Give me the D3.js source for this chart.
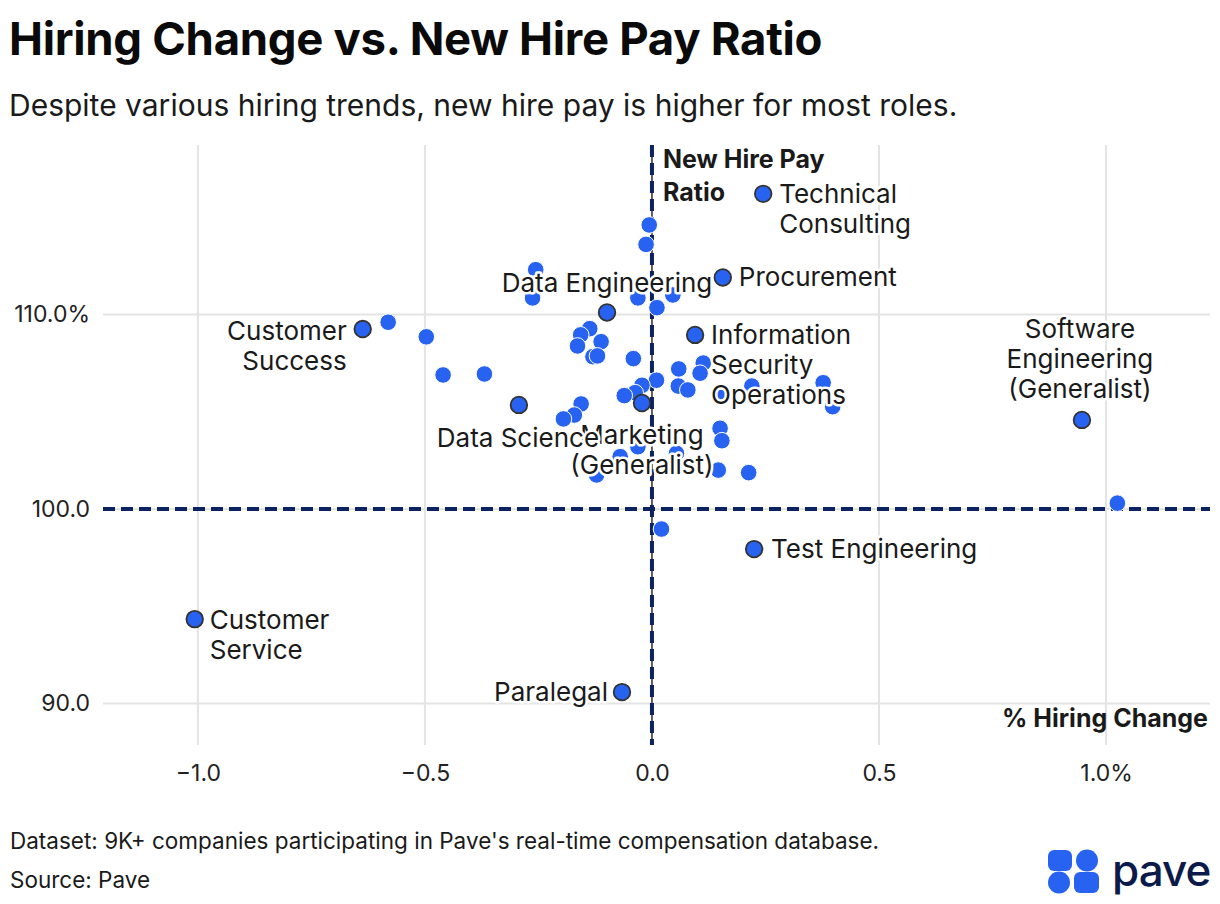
<!DOCTYPE html>
<html lang="en">
<head>
<meta charset="UTF-8">
<title>Hiring Change vs. New Hire Pay Ratio</title>
<style>
  body, html { margin: 0; background: #fff; }
  svg { display: block; }
  text { font-family: Inter, "Noto Sans", sans-serif; fill: #1a1a1a; }
  .title { font-size: 45.5px; font-weight: 700; fill: #0a0a0a; letter-spacing: -0.3px; }
  .subtitle { font-size: 30px; }
  .tick text { font-size: 23px; fill: #222; }
  .axis-title { font-size: 25px; font-weight: 700; fill: #1a1a1a; }
  .lbl { font-size: 26px; stroke: #fff; stroke-width: 5px; paint-order: stroke; stroke-linejoin: round; }
  .foot { font-size: 22.5px; }
</style>
</head>
<body>
<svg width="1220" height="904"></svg>
<script src="https://cdn.jsdelivr.net/npm/d3@7"></script>
<script>
// named roles (highlighted)
const roleNames = ["Technical Consulting", "Procurement", "Data Engineering", "Customer Success",
  "Information Security Operations", "Marketing (Generalist)", "Data Science",
  "Software Engineering (Generalist)", "Test Engineering", "Customer Service", "Paralegal"];
const roleHiring = [0.245, 0.156, -0.099, -0.637, 0.095, -0.022, -0.293, 0.947, 0.225, -1.007, -0.066];
const rolePay = [116.2, 111.9, 110.1, 109.25, 108.95, 105.45, 105.35, 104.58, 97.94, 94.34, 90.59];

// other roles (unlabeled)
const otherHiring = [-0.006, -0.013, -0.256, -0.263, -0.031, 0.046, 0.011, -0.581, -0.497, -0.137,
  -0.157, -0.112, -0.164, -0.130, -0.120, -0.041, -0.460, -0.369, 0.059, 0.113,
  0.106, 0.010, 0.058, 0.079, -0.022, -0.037, -0.061, 0.220, 0.377, 0.398,
  0.150, -0.156, -0.171, -0.195, 0.150, 0.154, -0.031, 0.054, -0.070, -0.122,
  0.146, 0.213, 0.021, 1.025];
const otherPay = [114.6, 113.6, 112.3, 110.85, 110.85, 111.0, 110.35, 109.6, 108.85, 109.27,
  108.95, 108.6, 108.38, 107.83, 107.87, 107.73, 106.89, 106.94, 107.2, 107.5,
  106.98, 106.62, 106.32, 106.12, 106.36, 105.98, 105.83, 106.32, 106.49, 105.26,
  105.94, 105.4, 104.83, 104.63, 104.15, 103.51, 103.2, 102.86, 102.69, 101.75,
  102.0, 101.87, 98.97, 100.3];

const xTicks = [-1.0, -0.5, 0.0, 0.5, 1.0];
const xTickLabels = ["\u22121.0", "\u22120.5", "0.0", "0.5", "1.0%"];
const yTicks = [90, 100, 110];
const yTickLabels = ["90.0", "100.0", "110.0%"];

// label placement: [lines, dx, dy of first baseline, anchor]
const labelLayout = {
  "Technical Consulting": [["Technical", "Consulting"], 16, 9, "start"],
  "Procurement": [["Procurement"], 16, 9, "start"],
  "Data Engineering": [["Data Engineering"], 0, -21, "middle"],
  "Customer Success": [["Customer", "Success"], -16, 11, "end"],
  "Information Security Operations": [["Information", "Security", "Operations"], 16, 9, "start"],
  "Data Science": [["Data Science"], -1, 42, "middle"],
  "Marketing (Generalist)": [["Marketing", "(Generalist)"], 0, 41, "middle"],
  "Software Engineering (Generalist)": [["Software", "Engineering", "(Generalist)"], -2, -82, "middle"],
  "Test Engineering": [["Test Engineering"], 17, 9, "start"],
  "Customer Service": [["Customer", "Service"], 15, 10, "start"],
  "Paralegal": [["Paralegal"], -14, 9, "end"]
};

const svg = d3.select("svg");
const W = 1220, H = 904;
const m = { left: 103, right: 10, top: 145, bottom: 159 };

const x = d3.scaleLinear().domain([-1.209, 1.229]).range([m.left, W - m.right]);
const y = d3.scaleLinear().domain([87.87, 118.71]).range([H - m.bottom, m.top]);

svg.append("text").attr("class", "title").attr("x", 9).attr("y", 55).text("Hiring Change vs. New Hire Pay Ratio");
svg.append("text").attr("class", "subtitle").attr("x", 9).attr("y", 116)
  .text("Despite various hiring trends, new hire pay is higher for most roles.");

// grid
const grid = svg.append("g");
grid.selectAll(".vg").data(xTicks).join("line")
  .attr("x1", d => x(d)).attr("x2", d => x(d))
  .attr("y1", m.top).attr("y2", H - m.bottom)
  .attr("stroke", "#e4e4e4").attr("stroke-width", 2);
grid.selectAll(".hg").data(yTicks).join("line")
  .attr("x1", m.left).attr("x2", W - m.right)
  .attr("y1", d => y(d)).attr("y2", d => y(d))
  .attr("stroke", "#e4e4e4").attr("stroke-width", 2);

// axes
const xAxis = d3.axisBottom(x).tickValues(xTicks).tickSize(0).tickPadding(0)
  .tickFormat((d, i) => xTickLabels[i]);
svg.append("g").attr("transform", `translate(0,${H - m.bottom + 20})`).call(xAxis)
  .call(g => g.select(".domain").remove());

const yAxis = d3.axisLeft(y).tickValues(yTicks).tickSize(0).tickPadding(0)
  .tickFormat((d, i) => yTickLabels[i]);
svg.append("g").attr("transform", `translate(90,0)`).call(yAxis)
  .call(g => g.select(".domain").remove());
svg.selectAll(".tick text").attr("font-family", null).attr("font-size", null);

// zero lines
svg.append("line")
  .attr("x1", x(0)).attr("x2", x(0)).attr("y1", m.top).attr("y2", H - m.bottom)
  .attr("stroke", "#333").attr("stroke-width", 1.5);
svg.append("line")
  .attr("x1", x(0)).attr("x2", x(0)).attr("y1", m.top).attr("y2", H - m.bottom)
  .attr("stroke", "#0d2260").attr("stroke-width", 4).attr("stroke-dasharray", "12,6");
svg.append("line")
  .attr("x1", m.left).attr("x2", W - m.right).attr("y1", y(100)).attr("y2", y(100))
  .attr("stroke", "#0d2260").attr("stroke-width", 4).attr("stroke-dasharray", "12,6");

// axis titles
svg.append("text").attr("class", "axis-title").attr("x", x(0) + 11).attr("y", 168).text("New Hire Pay");
svg.append("text").attr("class", "axis-title").attr("x", x(0) + 11).attr("y", 201).text("Ratio");
svg.append("text").attr("class", "axis-title").attr("x", W - 12).attr("y", 727)
  .attr("text-anchor", "end").text("% Hiring Change");

// points
const others = otherHiring.map((d, i) => ({ h: d, p: otherPay[i] }));
const roles = roleNames.map((n, i) => ({ name: n, h: roleHiring[i], p: rolePay[i] }));

svg.append("g").selectAll("circle").data(others).join("circle")
  .attr("cx", d => x(d.h)).attr("cy", d => y(d.p)).attr("r", 8.3)
  .attr("fill", "#2862f0").attr("stroke", "#fff").attr("stroke-width", 1);

svg.append("g").selectAll("circle").data(roles).join("circle")
  .attr("cx", d => x(d.h)).attr("cy", d => y(d.p)).attr("r", 8.3)
  .attr("fill", "#2862f0").attr("stroke", "#333").attr("stroke-width", 1.8);

// labels
const lg = svg.append("g");
roles.forEach(d => {
  const [lines, dx, dy, anchor] = labelLayout[d.name];
  const t = lg.append("text").attr("class", "lbl").attr("text-anchor", anchor);
  lines.forEach((ln, i) => {
    t.append("tspan").attr("x", x(d.h) + dx).attr("y", y(d.p) + dy + i * 30).text(ln);
  });
});

// footer
svg.append("text").attr("class", "foot").attr("x", 10).attr("y", 849)
  .text("Dataset: 9K+ companies participating in Pave's real-time compensation database.");
svg.append("text").attr("class", "foot").attr("x", 10).attr("y", 888).text("Source: Pave");

// logo
const logo = svg.append("g").attr("fill", "#2862f0");
logo.append("rect").attr("x", 1048).attr("y", 850).attr("width", 24).attr("height", 21).attr("rx", 6);
logo.append("circle").attr("cx", 1087).attr("cy", 860.5).attr("r", 11);
logo.append("circle").attr("cx", 1059).attr("cy", 882.5).attr("r", 11);
logo.append("rect").attr("x", 1074).attr("y", 872).attr("width", 25).attr("height", 21).attr("rx", 6);
svg.append("text").attr("x", 1112).attr("y", 886).attr("font-size", 44).attr("letter-spacing", -1)
  .style("fill", "#0b1a4a").style("font-weight", 500).text("pave");
</script>
</body>
</html>
